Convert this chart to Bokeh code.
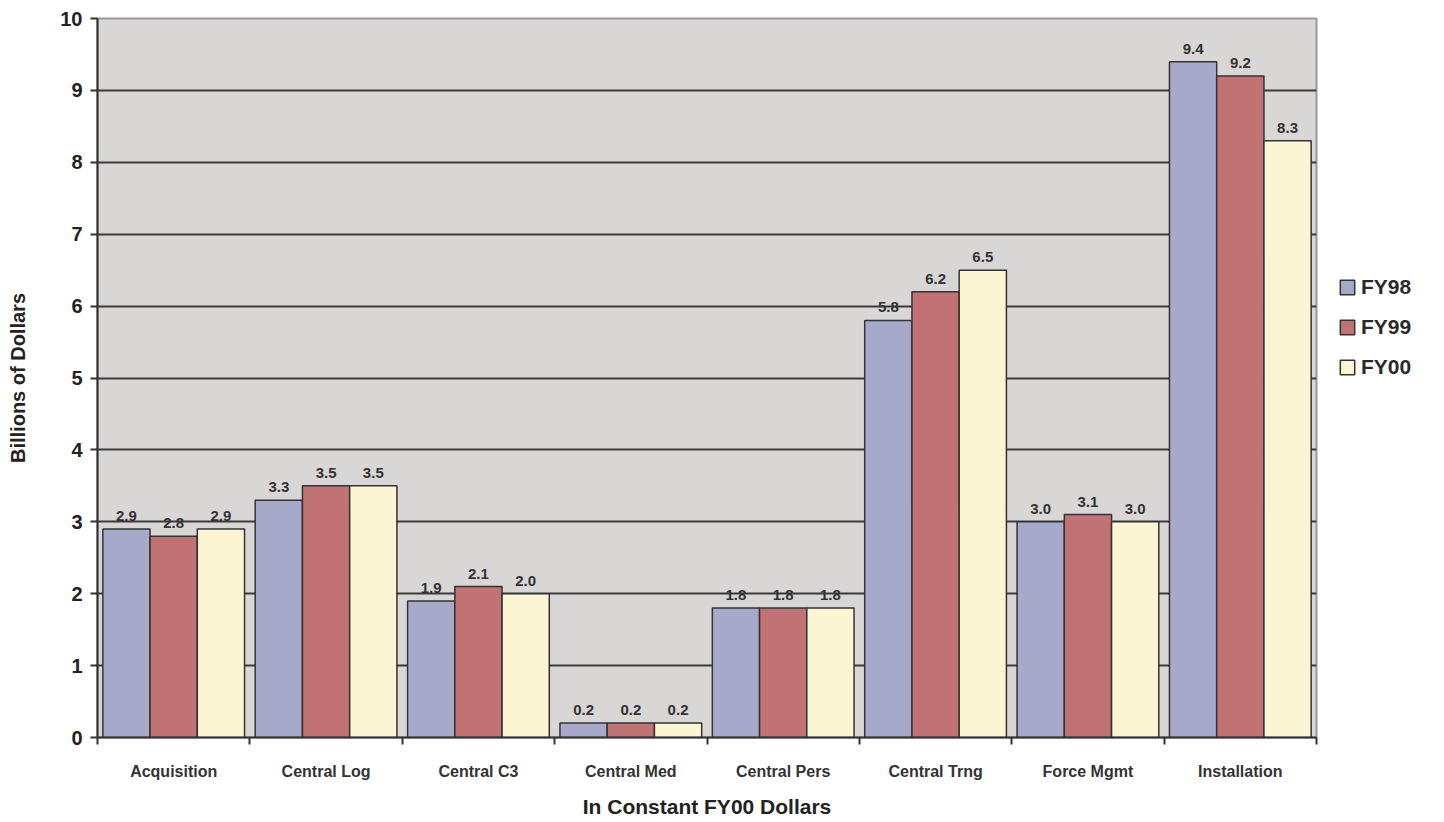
from bokeh.plotting import figure
from bokeh.models import (ColumnDataSource, Range1d, FixedTicker, Legend, LegendItem)
from bokeh.transform import dodge
from bokeh.core.properties import value
from bokeh.embed import file_html
from bokeh.resources import INLINE

categories = ["Acquisition", "Central Log", "Central C3", "Central Med", "Central Pers",
              "Central Trng", "Force Mgmt", "Installation"]
fy98 = [2.9, 3.3, 1.9, 0.2, 1.8, 5.8, 3.0, 9.4]
fy99 = [2.8, 3.5, 2.1, 0.2, 1.8, 6.2, 3.1, 9.2]
fy00 = [2.9, 3.5, 2.0, 0.2, 1.8, 6.5, 3.0, 8.3]
series = ["FY98", "FY99", "FY00"]
colors = ["#a6a9c9", "#c07274", "#fbf5d4"]
y_ticks = list(range(0, 11))

xs = [i + 0.5 for i in range(len(categories))]
src = ColumnDataSource(dict(
    x=xs, FY98=fy98, FY99=fy99, FY00=fy00,
    l98=[f"{v:.1f}" for v in fy98],
    l99=[f"{v:.1f}" for v in fy99],
    l00=[f"{v:.1f}" for v in fy00],
))

FONT = "Liberation Sans"

p = figure(frame_width=1219, frame_height=719, output_backend="svg", toolbar_location=None,
           x_range=Range1d(0, len(categories)), y_range=Range1d(0, 10),
           min_border_left=97, min_border_top=18, min_border_right=10, min_border_bottom=10)
p.background_fill_color = "#d9d6d6"
p.border_fill_color = "white"
p.outline_line_color = "#9a9898"
p.outline_line_width = 2

# grid
p.xgrid.grid_line_color = None
p.ygrid.ticker = FixedTicker(ticks=y_ticks)
p.ygrid.grid_line_color = "#3a3a3a"
p.ygrid.grid_line_width = 2

# bars
w = 0.31
offs = [-w, 0.0, w]
renderers = []
for s, c, o in zip(series, colors, offs):
    r = p.vbar(x=dodge("x", o, range=p.x_range), top=s, width=w, bottom=0, source=src,
               fill_color=c, line_color="#333333", line_width=1.5)
    renderers.append(r)

for s, lab, o in zip(series, ["l98", "l99", "l00"], offs):
    p.text(x=dodge("x", o, range=p.x_range), y=s, text=lab, source=src,
           text_align="center", text_baseline="bottom", y_offset=-8,
           text_font=value(FONT), text_font_style="bold", text_font_size="15px",
           text_color="#333333")

# x axis
xa = p.xaxis[0]
xa.ticker = FixedTicker(ticks=xs, minor_ticks=list(range(0, len(categories) + 1)))
xa.major_label_overrides = {x: c for x, c in zip(xs, categories)}
xa.major_tick_line_color = None
xa.minor_tick_line_color = "#333333"
xa.minor_tick_line_width = 2
xa.minor_tick_out = 7
xa.minor_tick_in = 0
xa.axis_line_color = "#333333"
xa.axis_line_width = 2
xa.major_label_text_font = FONT
xa.major_label_text_font_style = "bold"
xa.major_label_text_font_size = "16px"
xa.major_label_text_color = "#333333"
xa.major_label_standoff = 18
xa.axis_label = "In Constant FY00 Dollars"
xa.axis_label_text_font = FONT
xa.axis_label_text_font_style = "bold"
xa.axis_label_text_font_size = "21px"
xa.axis_label_text_color = "#222222"
xa.axis_label_standoff = 12

# y axis
ya = p.yaxis[0]
ya.ticker = FixedTicker(ticks=y_ticks)
ya.minor_tick_line_color = None
ya.major_tick_line_color = "#333333"
ya.major_tick_line_width = 2
ya.major_tick_out = 7
ya.major_tick_in = 0
ya.axis_line_color = "#333333"
ya.axis_line_width = 2
ya.major_label_text_font = FONT
ya.major_label_text_font_style = "bold"
ya.major_label_text_font_size = "20px"
ya.major_label_text_color = "#222222"
ya.major_label_standoff = 8
ya.axis_label = "Billions of Dollars"
ya.axis_label_text_font = FONT
ya.axis_label_text_font_style = "bold"
ya.axis_label_text_font_size = "20px"
ya.axis_label_text_color = "#222222"
ya.axis_label_standoff = 28

legend = Legend(items=[LegendItem(label=s, renderers=[r]) for s, r in zip(series, renderers)],
                location=(22, 358))
legend.background_fill_alpha = 0
legend.border_line_color = None
legend.label_text_font = FONT
legend.label_text_font_size = "21px"
legend.label_text_font_style = "bold"
legend.label_text_color = "#2a2a2a"
legend.glyph_width = 18
legend.glyph_height = 18
legend.label_height = 18
legend.spacing = 16
legend.label_standoff = 5
legend.padding = 4
legend.margin = 0
p.add_layout(legend, "right")

open("out.html", "w").write(file_html(p, INLINE))
